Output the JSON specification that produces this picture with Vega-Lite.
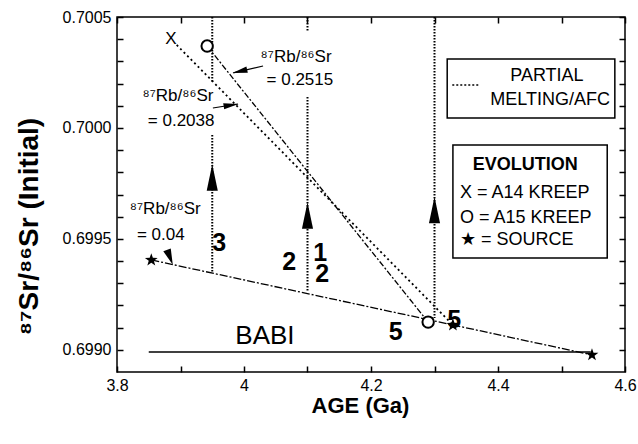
{
  "$schema": "https://vega.github.io/schema/vega-lite/v6.json",
  "width": 508,
  "height": 355,
  "autosize": "none",
  "padding": {"left": 117, "top": 17, "right": 13, "bottom": 72},
  "background": "white",
  "config": {
    "font": "Liberation Sans",
    "view": {"stroke": "black", "strokeWidth": 1.5},
    "axis": {"domain": false, "grid": false, "ticks": true, "tickColor": "black", "tickOpacity": 1, "labelColor": "black", "titleColor": "black", "tickWidth": 1.5, "labelOverlap": false}
  },
  "datasets": {
    "babi": [{"age": 3.85, "age2": 4.546, "sr": 0.69899}],
    "source": [{"age": 3.854, "sr": 0.699405}, {"age": 4.548, "sr": 0.698977}],
    "a14": [{"age": 3.894, "sr": 0.700374}, {"age": 4.329, "sr": 0.699112}],
    "a15": [{"age": 3.942, "sr": 0.700369}, {"age": 4.29, "sr": 0.699125}],
    "melt": [
      {"age": 3.95, "top": 0.7005, "bottom": 0.700203},
      {"age": 3.95, "top": 0.699968, "bottom": 0.69935},
      {"age": 4.1, "top": 0.7005, "bottom": 0.700432},
      {"age": 4.1, "top": 0.700139, "bottom": 0.699261},
      {"age": 4.3, "top": 0.7005, "bottom": 0.699143}
    ],
    "heads": [{"age": 3.95, "sr": 0.699777}, {"age": 4.1, "sr": 0.699605}, {"age": 4.3, "sr": 0.69963}],
    "tails": [
      {"age": 4.03, "sr": 0.700279, "age2": 3.983, "sr2": 0.700248},
      {"age": 3.951, "sr": 0.70009, "age2": 3.9906, "sr2": 0.700108}
    ],
    "stars": [{"age": 3.854, "sr": 0.699405}, {"age": 4.548, "sr": 0.698977}, {"age": 4.329, "sr": 0.699112}],
    "circles": [{"age": 3.942, "sr": 0.700369}, {"age": 4.29, "sr": 0.699125}],
    "xmark": [{"age": 3.885, "sr": 0.700401, "label": "X"}],
    "numbers": [
      {"age": 3.961, "sr": 0.699481, "label": "3"},
      {"age": 4.071, "sr": 0.699396, "label": "2"},
      {"age": 4.12, "sr": 0.699436, "label": "1"},
      {"age": 4.123, "sr": 0.699342, "label": "2"},
      {"age": 4.239, "sr": 0.69908, "label": "5"},
      {"age": 4.331, "sr": 0.699134, "label": "5"}
    ],
    "babilabel": [{"age": 4.033, "sr": 0.699062, "label": "BABI"}],
    "ratios": [
      {"age": 4.082, "sr": 0.70032, "label": "⁸⁷Rb/⁸⁶Sr"},
      {"age": 4.088, "sr": 0.700216, "label": "= 0.2515"},
      {"age": 3.896, "sr": 0.700144, "label": "⁸⁷Rb/⁸⁶Sr"},
      {"age": 3.901, "sr": 0.700031, "label": "= 0.2038"},
      {"age": 3.876, "sr": 0.699635, "label": "⁸⁷Rb/⁸⁶Sr"},
      {"age": 3.869, "sr": 0.699517, "label": "= 0.04"}
    ],
    "boxes": [
      {"age": 4.32, "age2": 4.584, "sr": 0.700311, "sr2": 0.700045},
      {"age": 4.329, "age2": 4.572, "sr": 0.699923, "sr2": 0.699414}
    ],
    "legcenter": [
      {"age": 4.477, "sr": 0.700234, "label": "PARTIAL"},
      {"age": 4.482, "sr": 0.700126, "label": "MELTING/AFC"}
    ],
    "legtitle": [{"age": 4.443, "sr": 0.699833, "label": "EVOLUTION"}],
    "legleft": [
      {"age": 4.34, "sr": 0.699707, "label": "X = A14 KREEP"},
      {"age": 4.34, "sr": 0.699594, "label": "O = A15 KREEP"},
      {"age": 4.34, "sr": 0.699495, "label": "★ = SOURCE"}
    ],
    "sample": [{"age": 4.328, "age2": 4.372, "sr": 0.700194}],
    "corner": [{"age": 3.8, "sr": 0.6989}]
  },
  "resolve": {"axis": {"x": "independent", "y": "independent"}},
  "layer": [
    {
      "encoding": {
        "x": {"field": "age", "type": "quantitative", "scale": {"domain": [3.8, 4.6], "nice": false, "zero": false}, "axis": null},
        "y": {"field": "sr", "type": "quantitative", "scale": {"domain": [0.6989, 0.7005], "nice": false, "zero": false}, "axis": null}
      },
      "layer": [
        {
          "data": {"name": "babi"},
          "mark": {"type": "rule", "color": "black", "strokeWidth": 1.5},
          "encoding": {"x2": {"field": "age2"}}
        },
        {
          "data": {"name": "source"},
          "mark": {"type": "line", "color": "black", "strokeWidth": 1.3, "strokeDash": [8, 2, 2, 2]}
        },
        {
          "data": {"name": "a14"},
          "mark": {"type": "line", "color": "black", "strokeWidth": 1.8, "strokeDash": [2, 3]}
        },
        {
          "data": {"name": "a15"},
          "mark": {"type": "line", "color": "black", "strokeWidth": 1.3, "strokeDash": [6, 2, 2, 2]}
        },
        {
          "data": {"name": "melt"},
          "mark": {"type": "rule", "color": "black", "strokeWidth": 2, "strokeDash": [1.5, 1.5]},
          "encoding": {"y": {"field": "top", "type": "quantitative", "axis": null}, "y2": {"field": "bottom"}}
        },
        {
          "data": {"name": "heads"},
          "mark": {"type": "point", "shape": "M0,-1L0.42,1L-0.42,1Z", "filled": true, "color": "black", "opacity": 1, "size": 700}
        },
        {
          "data": {"name": "tails"},
          "mark": {"type": "rule", "color": "black", "strokeWidth": 1.2},
          "encoding": {"x2": {"field": "age2"}, "y2": {"field": "sr2"}}
        },
        {
          "data": {"values": [{"age": 3.9934, "sr": 0.700255}]},
          "mark": {"type": "point", "shape": "M0,-1L0.42,1L-0.42,1Z", "filled": true, "color": "black", "opacity": 1, "size": 225, "angle": 257}
        },
        {
          "data": {"values": [{"age": 3.9797, "sr": 0.700103}]},
          "mark": {"type": "point", "shape": "M0,-1L0.42,1L-0.42,1Z", "filled": true, "color": "black", "opacity": 1, "size": 225, "angle": 81}
        },
        {
          "data": {"values": [{"age": 3.8833, "sr": 0.699417}]},
          "mark": {"type": "point", "shape": "M0,-1L0.5,1L-0.5,1Z", "filled": true, "color": "black", "opacity": 1, "size": 256, "angle": 159}
        },
        {
          "data": {"name": "stars"},
          "mark": {"type": "point", "shape": "M0,-1L0.235,-0.324L0.951,-0.309L0.38,0.124L0.588,0.809L0,0.4L-0.588,0.809L-0.38,0.124L-0.951,-0.309L-0.235,-0.324Z", "filled": true, "color": "black", "opacity": 1, "size": 180}
        },
        {
          "data": {"name": "circles"},
          "mark": {"type": "point", "shape": "circle", "filled": false, "fill": "white", "stroke": "black", "strokeWidth": 2, "opacity": 1, "size": 130}
        },
        {
          "data": {"name": "xmark"},
          "mark": {"type": "text", "fontSize": 17, "color": "black", "align": "center", "baseline": "middle"},
          "encoding": {"text": {"field": "label"}}
        },
        {
          "data": {"name": "numbers"},
          "mark": {"type": "text", "fontSize": 25, "fontWeight": "bold", "color": "black", "align": "center", "baseline": "middle"},
          "encoding": {"text": {"field": "label"}}
        },
        {
          "data": {"name": "babilabel"},
          "mark": {"type": "text", "fontSize": 26, "color": "black", "align": "center", "baseline": "middle"},
          "encoding": {"text": {"field": "label"}}
        },
        {
          "data": {"name": "ratios"},
          "mark": {"type": "text", "fontSize": 17, "color": "black", "align": "center", "baseline": "middle"},
          "encoding": {"text": {"field": "label"}}
        },
        {
          "data": {"name": "boxes"},
          "mark": {"type": "rect", "fill": "white", "stroke": "black", "strokeWidth": 1.5},
          "encoding": {"x2": {"field": "age2"}, "y2": {"field": "sr2"}}
        },
        {
          "data": {"name": "sample"},
          "mark": {"type": "rule", "color": "black", "strokeWidth": 1.5, "strokeDash": [2, 2]},
          "encoding": {"x2": {"field": "age2"}}
        },
        {
          "data": {"name": "legcenter"},
          "mark": {"type": "text", "fontSize": 18, "color": "black", "align": "center", "baseline": "middle"},
          "encoding": {"text": {"field": "label"}}
        },
        {
          "data": {"name": "legtitle"},
          "mark": {"type": "text", "fontSize": 18, "fontWeight": "bold", "color": "black", "align": "center", "baseline": "middle"},
          "encoding": {"text": {"field": "label"}}
        },
        {
          "data": {"name": "legleft"},
          "mark": {"type": "text", "fontSize": 18, "color": "black", "align": "left", "baseline": "middle"},
          "encoding": {"text": {"field": "label"}}
        }
      ]
    },
    {
      "data": {"name": "corner"},
      "mark": {"type": "point", "opacity": 0},
      "encoding": {
        "x": {"field": "age", "type": "quantitative",
          "axis": {"orient": "bottom", "values": [3.8, 3.9, 4.0, 4.1, 4.2, 4.3, 4.4, 4.5, 4.6], "format": "~g",
            "labelExpr": "abs(datum.value*5 - round(datum.value*5)) < 0.001 ? datum.label : ''",
            "offset": -6, "tickSize": 6, "labelPadding": 5, "labelFontSize": 16, "labelFlush": false, "labelOverlap": false, "zindex": 2,
            "title": "AGE (Ga)", "titleFontSize": 22, "titleFontWeight": "bold", "titleX": 243, "titleY": 46, "titleBaseline": "alphabetic", "titleAnchor": "middle", "titleAlign": "center"}},
        "y": {"field": "sr", "type": "quantitative",
          "axis": {"orient": "left", "values": [0.699, 0.6991, 0.6992, 0.6993, 0.6994, 0.6995, 0.6996, 0.6997, 0.6998, 0.6999, 0.7, 0.7001, 0.7002, 0.7003, 0.7004, 0.7005],
            "labelExpr": "abs(datum.value*2000 - round(datum.value*2000)) < 0.01 ? format(datum.value, '.4f') : ''",
            "offset": -6, "tickSize": 6, "labelPadding": 6, "labelFontSize": 16, "labelOverlap": false, "zindex": 2,
            "title": "⁸⁷Sr/⁸⁶Sr (Initial)", "titleFontSize": 28, "titleFontWeight": "bold", "titleAngle": 270, "titleX": -86, "titleY": 209, "titleBaseline": "alphabetic", "titleAlign": "center", "titleAnchor": "middle"}}
      }
    },
    {
      "data": {"name": "corner"},
      "mark": {"type": "point", "opacity": 0},
      "encoding": {
        "x": {"field": "age", "type": "quantitative",
          "axis": {"orient": "top", "values": [3.8, 3.9, 4.0, 4.1, 4.2, 4.3, 4.4, 4.5, 4.6], "labels": false, "offset": -6, "tickSize": 6, "title": null, "zindex": 2}},
        "y": {"field": "sr", "type": "quantitative",
          "axis": {"orient": "right", "values": [0.699, 0.6991, 0.6992, 0.6993, 0.6994, 0.6995, 0.6996, 0.6997, 0.6998, 0.6999, 0.7, 0.7001, 0.7002, 0.7003, 0.7004, 0.7005], "labels": false, "offset": -6, "tickSize": 6, "title": null, "zindex": 2}}
      }
    }
  ]
}
